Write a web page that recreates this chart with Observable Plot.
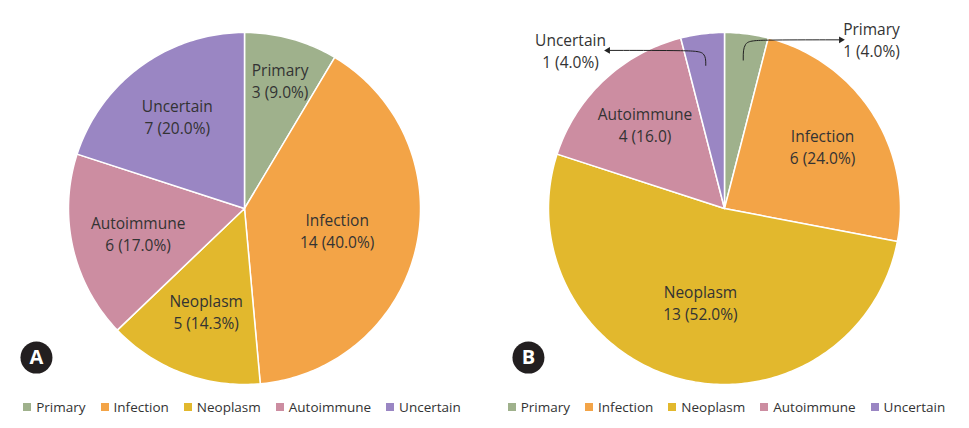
<!DOCTYPE html>
<html><head><meta charset="utf-8">
<script src="https://cdn.jsdelivr.net/npm/d3@7"></script>
<script src="https://cdn.jsdelivr.net/npm/@observablehq/plot@0.6"></script>
<style>
body{margin:0;background:#fff;font-family:"Open Sans",sans-serif;}
#wrap{width:969px;height:428px;position:relative;overflow:hidden;}
#legend{display:flex;height:30px;}
.lg{display:flex;justify-content:center;align-items:center;height:30px;font-size:13.5px;color:#333;}
.it{display:flex;align-items:center;margin:0 7.5px;}
.sw{width:8px;height:8px;margin-right:5px;}
</style></head><body><div id="wrap"><div id="chart"></div><div id="legend"></div></div>
<script>
const categories = ["Primary","Infection","Neoplasm","Autoimmune","Uncertain"];
const panels = ["A","B"];
const countsA = [3,14,5,6,7];
const countsB = [1,6,13,4,1];
const valueLabelsA = ["3 (9.0%)","14 (40.0%)","5 (14.3%)","6 (17.0%)","7 (20.0%)"];
const valueLabelsB = ["1 (4.0%)","6 (24.0%)","13 (52.0%)","4 (16.0)","1 (4.0%)"];
const colors = ["#9fb18c","#f3a447","#e2b82d","#cc8da1","#9a86c3"];

// layout
const R = 176, W = 969, H = 392, ML = 4, MR = 5;
const facetW = (W - ML - MR) / 2;
const xHalf = facetW / 2 / R;
const yTop = 208 / R, yBottom = -(H - 208) / R;
const labelRadius = {A: [0.76, 0.54, 0.62, 0.62, 0.65], B: [null, 0.66, 0.55, 0.66, null]};
const outsideLabel = {Primary: {x: 0.835, y: 0.963, side: 1}, Uncertain: {x: -0.875, y: 0.903, side: -1}};

function slices(panel, counts, labels) {
  const arcs = d3.pie().sort(null).value(d => d)(counts);
  return arcs.map((a, i) => ({panel, idx: i, category: categories[i], count: counts[i], label: labels[i],
    start: a.startAngle, end: a.endAngle, mid: (a.startAngle + a.endAngle) / 2}));
}
const sl = [...slices("A", countsA, valueLabelsA), ...slices("B", countsB, valueLabelsB)];

const wedgePts = [];
for (const s of sl) {
  const n = Math.max(2, Math.ceil((s.end - s.start) / (Math.PI / 180)));
  wedgePts.push({...s, x: 0, y: 0});
  for (let k = 0; k <= n; k++) {
    const a = s.start + (s.end - s.start) * k / n;
    wedgePts.push({...s, x: Math.sin(a), y: Math.cos(a)});
  }
  wedgePts.push({...s, x: 0, y: 0});
}

const inside = [], outside = [], callouts = [], heads = [];
for (const s of sl) {
  const f = labelRadius[s.panel][s.idx];
  if (f != null) {
    inside.push({...s, x: f * Math.sin(s.mid), y: f * Math.cos(s.mid)});
  } else {
    const o = outsideLabel[s.category];
    outside.push({...s, x: o.x, y: o.y});
    const sx = 0.85 * Math.sin(s.mid), sy = 0.85 * Math.cos(s.mid) - (o.side < 0 ? 0.03 : 0);
    const ex = 0.65 * o.side, ey = sy + (o.side > 0 ? 0.115 : 0.085);
    const pts = [[sx, sy], [sx, ey - 0.01], [sx + 0.08 * o.side, ey], [ex, ey]];
    pts.forEach(([x, y]) => callouts.push({panel: s.panel, category: s.category, x, y}));
    heads.push({panel: s.panel, x: ex + 0.012 * o.side, y: ey, rot: 90 * o.side});
  }
}

const badges = [{panel: "A", x: -1.182, y: -0.847}, {panel: "B", x: -1.114, y: -0.847}];

const chart = Plot.plot({
  width: W, height: H,
  marginLeft: ML, marginRight: MR, marginTop: 0, marginBottom: 0,
  style: {fontFamily: "'Open Sans', sans-serif", background: "white"},
  fx: {domain: panels, padding: 0, axis: null},
  x: {domain: [-xHalf, xHalf], axis: null},
  y: {domain: [yBottom, yTop], axis: null},
  color: {domain: categories, range: colors},
  marks: [
    Plot.line(wedgePts, {fx: "panel", x: "x", y: "y", z: d => d.panel + d.category, fill: "category",
      stroke: "white", strokeWidth: 1.5, strokeLinejoin: "round"}),
    Plot.text(inside, {fx: "panel", x: "x", y: "y", text: d => d.category + "\n" + d.label,
      fontSize: 15.5, lineHeight: 1.42, fill: "#333"}),
    Plot.text(outside, {fx: "panel", x: "x", y: "y", text: d => d.category + "\n" + d.label,
      fontSize: 15.5, lineHeight: 1.42, fill: "#333"}),
    Plot.line(callouts, {fx: "panel", x: "x", y: "y", z: "category", curve: "basis", stroke: "#222", strokeWidth: 1}),
    Plot.dot(heads, {fx: "panel", x: "x", y: "y", symbol: "triangle2", r: 3.2, fill: "#222", rotate: "rot"}),
    Plot.dot(badges, {fx: "panel", x: "x", y: "y", r: 16, fill: "#231f20"}),
    Plot.text(badges, {fx: "panel", x: "x", y: "y", text: "panel", fill: "white", fontSize: 20, fontWeight: "bold",
      stroke: "#231f20", strokeWidth: 0.5})
  ]
});
document.getElementById("chart").appendChild(chart);

const legend = document.getElementById("legend");
[484, 485].forEach(w => {
  const g = document.createElement("div");
  g.className = "lg"; g.style.width = w + "px";
  categories.forEach((c, i) => {
    const it = document.createElement("div"); it.className = "it";
    const sw = document.createElement("span"); sw.className = "sw"; sw.style.background = colors[i];
    const t = document.createElement("span"); t.textContent = c;
    it.appendChild(sw); it.appendChild(t); g.appendChild(it);
  });
  legend.appendChild(g);
});
</script></body></html>
